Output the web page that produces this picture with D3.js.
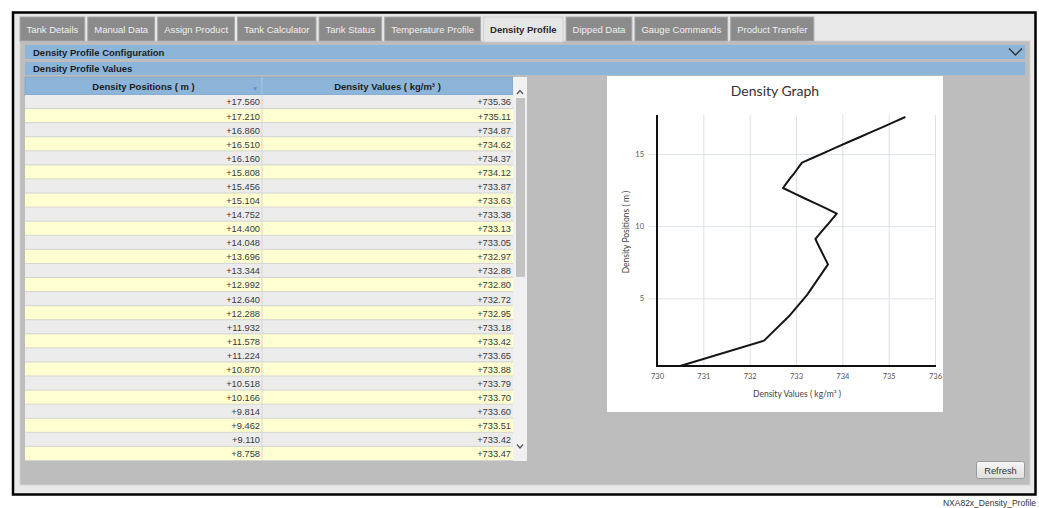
<!DOCTYPE html>
<html>
<head>
<meta charset="utf-8">
<script src="https://cdn.jsdelivr.net/npm/d3@7"></script>
<style>
  body { margin: 0; background: #fff; }
  svg { display: block; font-family: "Liberation Sans", Arial, sans-serif; }
</style>
</head>
<body>
<svg id="page" width="1039" height="508"></svg>
<script>
// tabs across the top of the tank view
const tabs = ["Tank Details", "Manual Data", "Assign Product", "Tank Calculator", "Tank Status",
  "Temperature Profile", "Density Profile", "Dipped Data", "Gauge Commands", "Product Transfer"];
const activeTab = "Density Profile";

const positions = [17.560, 17.210, 16.860, 16.510, 16.160, 15.808, 15.456, 15.104, 14.752, 14.400,
  14.048, 13.696, 13.344, 12.992, 12.640, 12.288, 11.932, 11.578, 11.224, 10.870,
  10.518, 10.166, 9.814, 9.462, 9.110, 8.758, 7.350, 5.238, 3.830, 2.070, 0.310];
const densities = [735.36, 735.11, 734.87, 734.62, 734.37, 734.12, 733.87, 733.63, 733.38, 733.13,
  733.05, 732.97, 732.88, 732.80, 732.72, 732.95, 733.18, 733.42, 733.65, 733.88,
  733.79, 733.70, 733.60, 733.51, 733.42, 733.47, 733.69, 733.24, 732.87, 732.31, 730.50];

const xTicks = [730, 731, 732, 733, 734, 735, 736];
const yTicks = [5, 10, 15];
const columns = ["Density Positions ( m )", "Density Values ( kg/m\u00b3 )"];
const visibleRows = 26;   // rows shown before the table scrolls
const totalRows = 50;     // rows in the full profile (sets the scroll thumb)

const rows = positions.map((p, i) => ({ pos: p, val: densities[i] }));

const svg = d3.select("#page");

// outer frame
svg.append("rect").attr("x", 13).attr("y", 12.5).attr("width", 1022.5).attr("height", 482)
  .attr("fill", "#e9e9e9").attr("stroke", "#000").attr("stroke-width", 2.5);

// grey content panel
svg.append("rect").attr("x", 20).attr("y", 41).attr("width", 1010).attr("height", 444)
  .attr("fill", "#bdbdbd").attr("stroke", "#d2d2d2");

// tabs, laid out from their text widths
let tx = 20;
const tabG = svg.append("g");
tabs.forEach(name => {
  const active = name === activeTab;
  const g = tabG.append("g");
  const r = g.append("rect");
  const t = g.append("text").text(name)
    .attr("y", 33)
    .attr("font-size", 9.5)
    .attr("font-weight", active ? "bold" : "normal")
    .attr("fill", active ? "#2a2a2a" : "#f0f0f0");
  const w = t.node().getComputedTextLength() + 13;
  t.attr("x", tx + w / 2).attr("text-anchor", "middle");
  r.attr("x", tx).attr("y", 17).attr("width", w).attr("height", active ? 25 : 24)
    .attr("fill", active ? "#e6e6e6" : "#8b8b8b")
    .attr("stroke", active ? "#cfcfcf" : "#a9a9a9");
  tx += w + 3;
});

// blue bars
const bars = [["Density Profile Configuration", 45, 14], ["Density Profile Values", 62, 13]];
bars.forEach(([label, y, h]) => {
  svg.append("rect").attr("x", 25).attr("y", y).attr("width", 1000).attr("height", h).attr("fill", "#8db5da");
  svg.append("text").attr("x", 33).attr("y", y + h / 2 + 3.5).text(label)
    .attr("font-size", 9.5).attr("font-weight", "bold").attr("fill", "#1d1d1d");
});
svg.append("path").attr("d", "M1009,48.5 L1015.5,55 L1022,48.5")
  .attr("fill", "none").attr("stroke", "#333").attr("stroke-width", 1.4);

// ---------- table ----------
const tLeft = 25, tMid = 262, tRight = 513, headTop = 77, bodyTop = 95, bodyBottom = 461;
const rowH = (bodyBottom - bodyTop) / visibleRows;

svg.append("rect").attr("x", tLeft).attr("y", headTop).attr("width", tRight - tLeft).attr("height", bodyTop - headTop)
  .attr("fill", "#8db5da").attr("stroke", "#7a9cbc").attr("stroke-width", 0.6);
svg.append("line").attr("x1", tMid).attr("x2", tMid).attr("y1", headTop).attr("y2", bodyTop)
  .attr("stroke", "#a9c4de");
svg.selectAll("text.colhead").data(columns).join("text").attr("class", "colhead")
  .attr("x", (d, i) => i === 0 ? (tLeft + tMid) / 2 : (tMid + tRight) / 2)
  .attr("y", 89.5).attr("text-anchor", "middle")
  .attr("font-size", 9.5).attr("font-weight", "bold").attr("fill", "#1d1d1d")
  .text(d => d);
svg.append("text").attr("x", 255).attr("y", 91).attr("text-anchor", "middle")
  .attr("font-size", 6.5).attr("fill", "#7d7ee0").text("\u25bc");

const row = svg.append("g").selectAll("g.row").data(rows.slice(0, visibleRows)).join("g").attr("class", "row")
  .attr("transform", (d, i) => `translate(0,${bodyTop + i * rowH})`);
row.append("rect").attr("x", tLeft).attr("width", tRight - tLeft).attr("height", rowH)
  .attr("fill", (d, i) => i % 2 ? "#ffffd2" : "#ececec");
row.append("line").attr("x1", tLeft).attr("x2", tRight).attr("y1", rowH - 0.5).attr("y2", rowH - 0.5)
  .attr("stroke", "#d3d3d3");
row.append("line").attr("x1", tMid).attr("x2", tMid).attr("y1", 0).attr("y2", rowH)
  .attr("stroke", "#d6d6d6");
row.append("text").attr("x", tMid - 2).attr("y", rowH / 2 + 3.4).attr("text-anchor", "end")
  .attr("font-size", 9.3).attr("fill", "#3a3a3a").text(d => "+" + d.pos.toFixed(3));
row.append("text").attr("x", tRight - 2).attr("y", rowH / 2 + 3.4).attr("text-anchor", "end")
  .attr("font-size", 9.3).attr("fill", "#3a3a3a").text(d => "+" + d.val.toFixed(2));

// scrollbar
svg.append("rect").attr("x", tRight).attr("y", headTop).attr("width", 14).attr("height", bodyBottom - headTop)
  .attr("fill", "#f1f1f1");
const trackTop = 98, trackBottom = 442;
svg.append("rect").attr("x", tRight + 3).attr("y", trackTop)
  .attr("width", 9).attr("height", (trackBottom - trackTop) * visibleRows / totalRows)
  .attr("fill", "#c3c3c3");
svg.append("path").attr("d", `M${tRight + 4},94 L${tRight + 7},90.5 L${tRight + 10},94`)
  .attr("fill", "none").attr("stroke", "#555").attr("stroke-width", 1.2);
svg.append("path").attr("d", `M${tRight + 4},444.5 L${tRight + 7},448 L${tRight + 10},444.5`)
  .attr("fill", "none").attr("stroke", "#555").attr("stroke-width", 1.2);

// ---------- density graph ----------
svg.append("rect").attr("x", 607).attr("y", 76).attr("width", 336).attr("height", 336).attr("fill", "#fff");

const chartFont = "Lato, 'Open Sans', sans-serif";
svg.append("text").attr("x", 775).attr("y", 96).attr("text-anchor", "middle")
  .attr("font-family", chartFont).attr("font-size", 14).attr("fill", "#333").text("Density Graph");

const x = d3.scaleLinear().domain([730, 736]).range([657, 935]);
const y = d3.scaleLinear().domain(d3.extent(positions)).range([366, 117]);

const gx = svg.append("g").attr("transform", "translate(0,366)")
  .call(d3.axisBottom(x).tickValues(xTicks).tickFormat(d3.format("d")).tickSize(-251).tickPadding(8));
gx.select(".domain").remove();
gx.selectAll(".tick line").attr("stroke", "#e0e0e0").attr("stroke-width", 1)
  .filter(d => d === 730).remove();
gx.selectAll(".tick text").attr("font-family", chartFont).attr("font-size", 7.5).attr("fill", "#555");

const gy = svg.append("g").attr("transform", "translate(648,0)")
  .call(d3.axisLeft(y).tickValues(yTicks).tickSize(-287).tickPadding(4));
gy.select(".domain").remove();
gy.selectAll(".tick line").attr("stroke", "#dde3ea").attr("stroke-width", 1);
gy.selectAll(".tick text").attr("font-family", chartFont).attr("font-size", 7.5).attr("fill", "#555");

// axis lines
svg.append("line").attr("x1", 657).attr("x2", 657).attr("y1", 115).attr("y2", 367)
  .attr("stroke", "#111").attr("stroke-width", 2);
svg.append("line").attr("x1", 656).attr("x2", 936).attr("y1", 366).attr("y2", 366)
  .attr("stroke", "#111").attr("stroke-width", 2);

svg.append("path").datum(rows)
  .attr("d", d3.line().x(d => x(d.val)).y(d => y(d.pos)))
  .attr("fill", "none").attr("stroke", "#151515").attr("stroke-width", 2)
  .attr("stroke-linejoin", "round");

svg.append("text").attr("x", 797).attr("y", 397).attr("text-anchor", "middle")
  .attr("font-family", chartFont).attr("font-size", 8.5).attr("fill", "#444")
  .text("Density Values ( kg/m\u00b3 )");
svg.append("text").attr("transform", "translate(629,232) rotate(-90)").attr("text-anchor", "middle")
  .attr("font-family", chartFont).attr("font-size", 8.5).attr("fill", "#444")
  .text("Density Positions ( m )");

// refresh button
const grad = svg.append("linearGradient").attr("id", "btn").attr("x1", 0).attr("x2", 0).attr("y1", 0).attr("y2", 1);
grad.append("stop").attr("offset", 0).attr("stop-color", "#f7f7f7");
grad.append("stop").attr("offset", 1).attr("stop-color", "#dedede");
svg.append("rect").attr("x", 976.5).attr("y", 461.5).attr("width", 48).attr("height", 17).attr("rx", 2)
  .attr("fill", "url(#btn)").attr("stroke", "#9a9a9a");
svg.append("text").attr("x", 1000.5).attr("y", 473.5).attr("text-anchor", "middle")
  .attr("font-size", 9.3).attr("fill", "#333").text("Refresh");

// figure caption
svg.append("text").attr("x", 1036).attr("y", 506).attr("text-anchor", "end")
  .attr("font-size", 8.5).attr("fill", "#333").text("NXA82x_Density_Profile");
</script>
</body>
</html>
